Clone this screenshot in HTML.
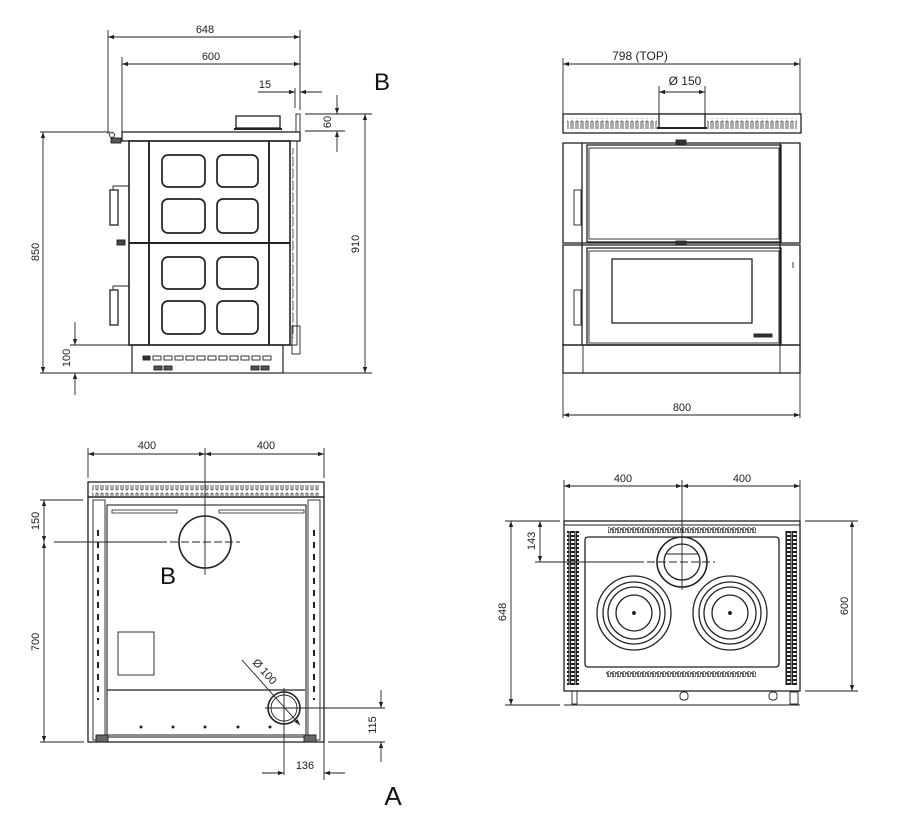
<!DOCTYPE html>
<html><head><meta charset="utf-8"><style>
html,body{margin:0;padding:0;background:#fff}
svg{display:block}
text{font-family:"Liberation Sans",sans-serif;font-size:11px;fill:#222}
</style></head><body>
<svg width="912" height="824" viewBox="0 0 912 824" xmlns="http://www.w3.org/2000/svg">
<defs>
<marker id="a" viewBox="0 0 10 10" refX="10" refY="5" markerUnits="userSpaceOnUse" markerWidth="9" markerHeight="6" orient="auto-start-reverse"><path d="M0,1.5 L10,5 L0,8.5z" fill="#222"/></marker>
<pattern id="slots" width="5" height="12" patternUnits="userSpaceOnUse"><rect x="1" y="1" width="2" height="9" rx="1" fill="none" stroke="#333" stroke-width="0.8"/></pattern>
<pattern id="grid" width="6" height="4" patternUnits="userSpaceOnUse"><rect x="0.5" y="0.5" width="4.5" height="3" fill="none" stroke="#222" stroke-width="1.1"/></pattern>
<pattern id="wave" width="5" height="6" patternUnits="userSpaceOnUse"><path d="M0,5 V1 H3 V5 H5" fill="none" stroke="#222" stroke-width="1.2"/></pattern>
</defs>
<g stroke="#222" stroke-width="0.9" fill="none">
<!-- ===== TOP LEFT (side view) ===== -->
<line x1="108" y1="30" x2="108" y2="134"/><line x1="300" y1="30" x2="300" y2="110"/>
<line x1="108" y1="37" x2="300" y2="37" marker-start="url(#a)" marker-end="url(#a)"/>
<line x1="122" y1="57" x2="122" y2="134"/>
<line x1="122" y1="64" x2="300" y2="64" marker-start="url(#a)" marker-end="url(#a)"/>
<line x1="295" y1="88" x2="295" y2="108"/>
<line x1="258" y1="92" x2="295" y2="92" marker-end="url(#a)"/>
<line x1="322" y1="92" x2="300" y2="92" marker-end="url(#a)"/>
<line x1="305" y1="114" x2="345" y2="114"/><line x1="305" y1="131" x2="345" y2="131"/>
<line x1="337" y1="95" x2="337" y2="114" marker-end="url(#a)"/>
<line x1="337" y1="152" x2="337" y2="131" marker-end="url(#a)"/>
<line x1="345" y1="114" x2="372" y2="114"/>
<line x1="365" y1="114" x2="365" y2="373" marker-start="url(#a)" marker-end="url(#a)"/>
<line x1="40" y1="132" x2="110" y2="132"/>
<line x1="43" y1="132" x2="43" y2="373" marker-start="url(#a)" marker-end="url(#a)"/>
<line x1="40" y1="373" x2="372" y2="373"/>
<line x1="70" y1="345" x2="130" y2="345"/>
<line x1="75" y1="322" x2="75" y2="345" marker-end="url(#a)"/>
<line x1="75" y1="395" x2="75" y2="373" marker-end="url(#a)"/>
<rect x="122" y="132" width="178" height="9" stroke-width="1.3"/>
<rect x="236" y="116" width="44" height="12" stroke-width="1.3"/>
<line x1="234" y1="129" x2="282" y2="129" stroke-width="2"/>
<rect x="296" y="114" width="4" height="18"/>
<circle cx="112" cy="135" r="2.5"/><rect x="111" y="138" width="10" height="5" fill="#555"/>
<rect x="129" y="141" width="161" height="204" stroke-width="1.6"/>
<line x1="129" y1="243" x2="290" y2="243" stroke-width="2"/>
<line x1="149" y1="141" x2="149" y2="345" stroke-width="1.9"/>
<line x1="269" y1="141" x2="269" y2="345" stroke-width="1.9"/>
<g stroke-width="1.7">
<rect x="162" y="155" width="43" height="32" rx="6"/><rect x="217" y="155" width="41" height="32" rx="6"/>
<rect x="162" y="199" width="43" height="34" rx="6"/><rect x="217" y="199" width="41" height="34" rx="6"/>
<rect x="162" y="257" width="43" height="32" rx="6"/><rect x="217" y="257" width="41" height="32" rx="6"/>
<rect x="162" y="301" width="43" height="33" rx="6"/><rect x="217" y="301" width="41" height="33" rx="6"/>
</g>
<rect x="290" y="141" width="7" height="204"/>
<rect x="292" y="148" width="3" height="190" fill="url(#slots)" stroke="none"/>
<rect x="292" y="326" width="8" height="28"/>
<rect x="110" y="190" width="8" height="35" stroke-width="1.3"/><path d="M113,190 V186 H129"/>
<rect x="110" y="290" width="8" height="35" stroke-width="1.3"/><path d="M113,290 V286 H129"/>
<rect x="117" y="240" width="8" height="5" fill="#444"/>
<rect x="132" y="345" width="151" height="28" stroke-width="1.2"/>
<g stroke-width="0.9"><rect x="143" y="356" width="7" height="4" fill="#333"/>
<rect x="153" y="356" width="8" height="4"/><rect x="164" y="356" width="8" height="4"/><rect x="175" y="356" width="8" height="4"/><rect x="186" y="356" width="8" height="4"/><rect x="197" y="356" width="8" height="4"/><rect x="208" y="356" width="8" height="4"/><rect x="219" y="356" width="8" height="4"/><rect x="230" y="356" width="8" height="4"/><rect x="241" y="356" width="8" height="4"/><rect x="252" y="356" width="8" height="4"/><rect x="263" y="356" width="8" height="4"/>
<rect x="154" y="366" width="8" height="4" fill="#555"/><rect x="164" y="366" width="8" height="4" fill="#555"/><rect x="251" y="366" width="8" height="4" fill="#555"/><rect x="261" y="366" width="8" height="4" fill="#555"/></g>

<!-- ===== TOP RIGHT (front view) ===== -->
<line x1="563" y1="58" x2="563" y2="114"/><line x1="800" y1="58" x2="800" y2="114"/>
<line x1="563" y1="64" x2="800" y2="64" marker-start="url(#a)" marker-end="url(#a)"/>
<line x1="659" y1="86" x2="659" y2="114"/><line x1="705" y1="86" x2="705" y2="114"/>
<line x1="659" y1="92" x2="705" y2="92" marker-start="url(#a)" marker-end="url(#a)"/>
<rect x="563" y="114" width="238" height="19" stroke-width="1.3"/>
<rect x="567" y="118" width="90" height="11" fill="url(#slots)" stroke="none"/>
<rect x="707" y="118" width="90" height="11" fill="url(#slots)" stroke="none"/>
<rect x="659" y="114" width="46" height="14" fill="#fff" stroke-width="1.3"/>
<line x1="657" y1="128" x2="707" y2="128" stroke-width="2"/>
<line x1="563" y1="143" x2="800" y2="143"/>
<rect x="563" y="143" width="237" height="100" stroke-width="1.3"/>
<rect x="563" y="245" width="237" height="100" stroke-width="1.3"/>
<line x1="582" y1="143" x2="582" y2="345" stroke-width="1.3"/><line x1="780" y1="143" x2="780" y2="345" stroke-width="1.3"/>
<rect x="587" y="145" width="194" height="97" stroke-width="1.3"/>
<rect x="589" y="148" width="190" height="91"/>
<rect x="587" y="248" width="194" height="97" stroke-width="1.3"/>
<rect x="589" y="251" width="190" height="92"/>
<rect x="612" y="259" width="140" height="64" stroke-width="1.3"/>
<rect x="676" y="140" width="10" height="4" fill="#333"/><rect x="676" y="241" width="10" height="4" fill="#333"/>
<rect x="574" y="190" width="7" height="35"/><rect x="574" y="290" width="7" height="35"/>
<rect x="754" y="334" width="18" height="3" fill="#333"/>
<line x1="793" y1="262" x2="793" y2="268"/>
<rect x="563" y="345" width="237" height="28" stroke-width="1.3"/>
<line x1="583" y1="345" x2="583" y2="373"/><line x1="780" y1="345" x2="780" y2="373"/>
<line x1="563" y1="373" x2="563" y2="418"/><line x1="800" y1="373" x2="800" y2="418"/>
<line x1="563" y1="415" x2="800" y2="415" marker-start="url(#a)" marker-end="url(#a)"/>

<!-- ===== BOTTOM LEFT (top view) ===== -->
<line x1="88" y1="448" x2="88" y2="478"/><line x1="324" y1="448" x2="324" y2="478"/>
<line x1="88" y1="454" x2="205" y2="454" marker-start="url(#a)" marker-end="url(#a)"/>
<line x1="205" y1="454" x2="324" y2="454" marker-start="url(#a)" marker-end="url(#a)"/>
<line x1="205" y1="448" x2="205" y2="575"/>
<rect x="88" y="482" width="236" height="15" stroke-width="1.3"/>
<rect x="92" y="485" width="228" height="11" fill="url(#slots)" stroke="none"/>
<rect x="88" y="497" width="236" height="245" stroke-width="1.3"/>
<rect x="107" y="505" width="199" height="232" stroke-width="1.1"/>
<rect x="93" y="500" width="12" height="240"/><rect x="308" y="500" width="12" height="240"/>
<line x1="98" y1="530" x2="98" y2="700" stroke-width="2" stroke-dasharray="6,6"/>
<line x1="314" y1="530" x2="314" y2="700" stroke-width="2" stroke-dasharray="6,6"/>
<g stroke-width="0.8"><rect x="112" y="510" width="65" height="3"/><rect x="219" y="510" width="85" height="3"/></g>
<line x1="54" y1="542" x2="167" y2="542"/><line x1="170" y1="542" x2="240" y2="542" stroke-dasharray="8,3"/>
<circle cx="205" cy="542" r="26" stroke-width="1.6"/>
<line x1="40" y1="500" x2="83" y2="500"/><line x1="40" y1="742" x2="84" y2="742"/>
<line x1="44" y1="500" x2="44" y2="542" marker-start="url(#a)" marker-end="url(#a)"/>
<line x1="44" y1="542" x2="44" y2="742" marker-start="url(#a)" marker-end="url(#a)"/>
<rect x="118" y="632" width="36" height="43"/>
<line x1="107" y1="690" x2="305" y2="690" stroke-width="1.3"/>
<line x1="100" y1="735" x2="316" y2="735"/>
<circle cx="284" cy="708" r="16" stroke-width="1.6"/><circle cx="284" cy="708" r="13"/>
<line x1="242" y1="660" x2="300" y2="725" marker-end="url(#a)"/>
<line x1="284" y1="688" x2="284" y2="775"/><line x1="265" y1="708" x2="385" y2="708"/>
<line x1="324" y1="742" x2="324" y2="780"/><line x1="328" y1="742" x2="385" y2="742"/>
<line x1="381" y1="690" x2="381" y2="708" marker-end="url(#a)"/>
<line x1="381" y1="762" x2="381" y2="742" marker-end="url(#a)"/>
<line x1="262" y1="773" x2="284" y2="773" marker-end="url(#a)"/>
<line x1="345" y1="773" x2="324" y2="773" marker-end="url(#a)"/>
<g fill="#222" stroke="none"><circle cx="141" cy="727" r="1.5"/><circle cx="173" cy="727" r="1.5"/><circle cx="205" cy="727" r="1.5"/><circle cx="238" cy="727" r="1.5"/><circle cx="270" cy="727" r="1.5"/></g>
<rect x="96" y="735" width="12" height="7" fill="#666"/><rect x="304" y="735" width="12" height="7" fill="#666"/>

<!-- ===== BOTTOM RIGHT (top view hob) ===== -->
<line x1="564" y1="480" x2="564" y2="521"/><line x1="800" y1="480" x2="800" y2="521"/>
<line x1="564" y1="486" x2="682" y2="486" marker-start="url(#a)" marker-end="url(#a)"/>
<line x1="682" y1="486" x2="800" y2="486" marker-start="url(#a)" marker-end="url(#a)"/>
<line x1="682" y1="480" x2="682" y2="590"/>
<rect x="564" y="521" width="236" height="170" stroke-width="1.3"/>
<line x1="564" y1="525" x2="800" y2="525"/>
<rect x="585" y="537" width="194" height="130" rx="3" stroke-width="1.3"/>
<rect x="567" y="531" width="12" height="154" fill="url(#grid)" stroke="none"/>
<rect x="785" y="531" width="12" height="154" fill="url(#grid)" stroke="none"/>
<rect x="608" y="527" width="148" height="6" fill="url(#wave)" stroke="none"/>
<rect x="606" y="671" width="150" height="6" fill="url(#wave)" stroke="none"/>
<circle cx="682" cy="562" r="25" stroke-width="1.6"/><circle cx="682" cy="562" r="18" stroke-width="1.3"/>
<line x1="666" y1="554" x2="698" y2="554"/>
<line x1="636" y1="562" x2="715" y2="562" stroke-dasharray="8,3"/>
<line x1="535" y1="562" x2="640" y2="562"/>
<g stroke-width="1.3"><circle cx="634" cy="613" r="37"/><circle cx="634" cy="613" r="31"/><circle cx="634" cy="613" r="26"/><circle cx="634" cy="613" r="18"/>
<circle cx="730" cy="613" r="37"/><circle cx="730" cy="613" r="31"/><circle cx="730" cy="613" r="26"/><circle cx="730" cy="613" r="18"/></g>
<circle cx="634" cy="613" r="1.5" fill="#222"/><circle cx="730" cy="613" r="1.5" fill="#222"/>
<line x1="564" y1="705" x2="800" y2="705"/>
<rect x="572" y="691" width="5" height="13"/><rect x="680" y="692" width="8" height="8" rx="3"/><rect x="769" y="692" width="8" height="8" rx="3"/><rect x="790" y="692" width="8" height="12"/>
<line x1="505" y1="521" x2="560" y2="521"/><line x1="505" y1="705" x2="560" y2="705"/>
<line x1="511" y1="521" x2="511" y2="705" marker-start="url(#a)" marker-end="url(#a)"/>
<line x1="540" y1="521" x2="540" y2="562" marker-start="url(#a)" marker-end="url(#a)"/>
<line x1="805" y1="521" x2="858" y2="521"/><line x1="805" y1="691" x2="858" y2="691"/>
<line x1="852" y1="521" x2="852" y2="691" marker-start="url(#a)" marker-end="url(#a)"/>
</g>
<!-- texts -->
<text x="205" y="33" text-anchor="middle">648</text>
<text x="211" y="60" text-anchor="middle">600</text>
<text x="265" y="88" text-anchor="middle">15</text>
<text transform="translate(331,122) rotate(-90)" text-anchor="middle">60</text>
<text transform="translate(39,252) rotate(-90)" text-anchor="middle">850</text>
<text transform="translate(359,244) rotate(-90)" text-anchor="middle">910</text>
<text transform="translate(70,358) rotate(-90)" text-anchor="middle">100</text>
<text x="382" y="90" text-anchor="middle" style="font-size:24px;fill:#111">B</text>
<text x="640" y="60" text-anchor="middle" style="font-size:12px">798  (TOP)</text>
<text x="685" y="85" text-anchor="middle" style="font-size:12px">Ø  150</text>
<text x="682" y="411" text-anchor="middle">800</text>
<text x="147" y="449" text-anchor="middle">400</text>
<text x="266" y="449" text-anchor="middle">400</text>
<text transform="translate(39,521) rotate(-90)" text-anchor="middle">150</text>
<text transform="translate(39,642) rotate(-90)" text-anchor="middle">700</text>
<text x="168" y="584" text-anchor="middle" style="font-size:24px;fill:#111">B</text>
<text transform="translate(262,674) rotate(48)" text-anchor="middle">Ø  100</text>
<text transform="translate(376,725) rotate(-90)" text-anchor="middle">115</text>
<text x="305" y="769" text-anchor="middle">136</text>
<text x="393" y="805" text-anchor="middle" style="font-size:26px;fill:#111">A</text>
<text x="623" y="482" text-anchor="middle">400</text>
<text x="742" y="482" text-anchor="middle">400</text>
<text transform="translate(535,541) rotate(-90)" text-anchor="middle">143</text>
<text transform="translate(506,612) rotate(-90)" text-anchor="middle">648</text>
<text transform="translate(848,606) rotate(-90)" text-anchor="middle">600</text>
</svg>
</body></html>
